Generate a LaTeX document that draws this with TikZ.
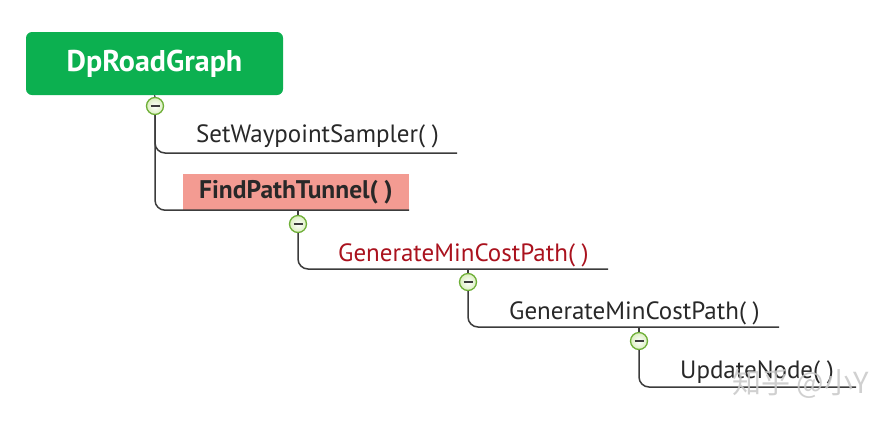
\documentclass[tikz,border=0pt]{standalone}
\usepackage{fontspec}
\setmainfont{PT Sans}
\newfontfamily\cjkfont{Noto Sans CJK SC}
\definecolor{rootgreen}{RGB}{12,176,80}
\definecolor{salmon}{RGB}{243,155,146}
\definecolor{darkred}{RGB}{170,18,30}
\definecolor{txt}{RGB}{40,40,40}
\definecolor{linegray}{RGB}{60,60,60}
\definecolor{circedge}{RGB}{110,175,55}
\definecolor{circfill}{RGB}{218,238,190}
\definecolor{wm}{RGB}{200,200,200}
\tikzset{
  rootbox/.style={draw=none, fill=rootgreen, rounded corners=6pt, minimum width=257pt, minimum height=63pt, inner sep=0pt, text=white, font=\fontsize{30}{33}\selectfont\bfseries},
  leaf/.style={anchor=base west, inner sep=0pt, text=txt, font=\fontsize{25}{28}\selectfont},
  hibox/.style={draw=none, fill=salmon, minimum width=226pt, minimum height=36pt, inner sep=0pt, text=txt, font=\fontsize{25.5}{28}\selectfont\bfseries},
  toggle/.style={circle, draw=circedge, line width=1.3pt, inner color=white, outer color=circfill, minimum size=17pt, inner sep=0pt,
    path picture={\draw[linegray, line width=1.4pt] ([xshift=-4.5pt]path picture bounding box.center) -- ([xshift=4.5pt]path picture bounding box.center);}},
  conn/.style={draw=linegray, line width=1.5pt, rounded corners=10pt},
  stub/.style={draw=linegray, line width=1.2pt}
}
\begin{document}
\begin{tikzpicture}[x=1pt,y=-1pt]
\useasboundingbox[fill=white] (0,0) rectangle (890,424);
% root
\node[rootbox] (root) at (154.5,63.5) {DpRoadGraph};
\node[toggle] (c1) at (155,106) {};
\draw[stub] (root.south) -- (c1.north);
% level 1
\node[leaf] (t1) at (196,142) {SetWaypointSampler( )};
\coordinate (e1) at (457,153);
\draw[conn] (c1.south) |- (e1);
\node[hibox] (t2) at (296,192) {FindPathTunnel( )};
\draw[conn] (c1.south) |- (t2.south east);
% level 2
\node[toggle] (c2) at (298,224) {};
\draw[stub] (t2.south -| c2) -- (c2.north);
\node[leaf, text=darkred] (t3) at (338,261) {GenerateMinCostPath( )};
\coordinate (e3) at (608,269);
\draw[conn] (c2.south) |- (e3);
% level 3
\node[toggle] (c3) at (468,282) {};
\draw[stub] (c3.north |- e3) -- (c3.north);
\node[leaf] (t4) at (509,319) {GenerateMinCostPath( )};
\coordinate (e4) at (779,327);
\draw[conn] (c3.south) |- (e4);
% level 4
\node[toggle] (c4) at (639,341) {};
\draw[stub] (c4.north |- e4) -- (c4.north);
\node[leaf] (t5) at (680,378) {UpdateNode( )};
\coordinate (e5) at (856,387);
\draw[conn] (c4.south) |- (e5);
% watermark
\node[anchor=west, inner sep=0pt, text=wm, font=\fontsize{29}{32}\selectfont\cjkfont, opacity=0.85] (wmk) at (732,384) {知乎 @小Y};
\end{tikzpicture}
\end{document}
